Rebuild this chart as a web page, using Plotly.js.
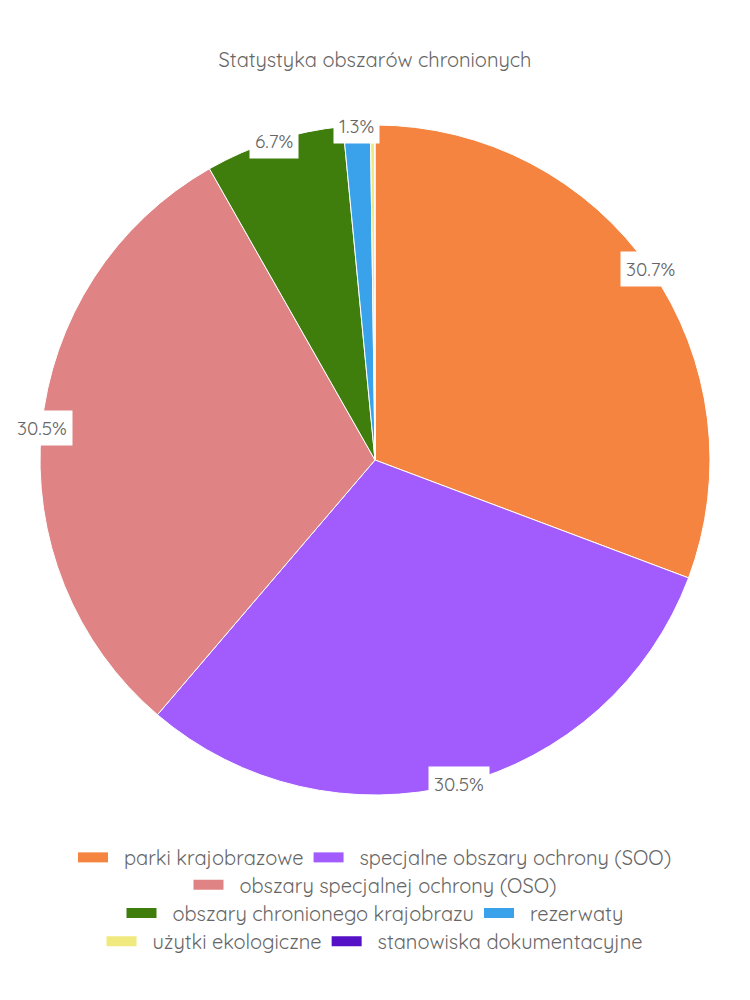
<!DOCTYPE html>
<html>
<head>
<meta charset="utf-8">
<script src="https://cdn.plot.ly/plotly-3.0.1.min.js"></script>
<style>html,body{margin:0;padding:0;background:#fff}#chart{width:750px;height:1000px}</style>
</head>
<body>
<div id="chart"></div>
<script>
const categories = [
  "parki krajobrazowe",
  "specjalne obszary ochrony (SOO)",
  "obszary specjalnej ochrony (OSO)",
  "obszary chronionego krajobrazu",
  "rezerwaty",
  "użytki ekologiczne",
  "stanowiska dokumentacyjne"
];
const values = [30.7, 30.5, 30.5, 6.7, 1.3, 0.2, 0.02];
const colors = ["#F4843F", "#A25CFE", "#E08384", "#3F7E0D", "#39A2EB", "#F0EA7E", "#5411C5"];
const chartTitle = "Statystyka obszarów chronionych";
const legendRows = [[0, 1], [2], [3, 4], [5, 6]];

const FONT = "Quicksand, 'Open Sans', sans-serif";
const TXT = "#666666";

const total = values.reduce((a, b) => a + b, 0);
const annotations = [];
let cum = 0;
values.forEach(v => {
  const frac = v / total;
  const mid = (cum + frac / 2) * 2 * Math.PI;
  cum += frac;
  if (frac * 100 < 1) return;
  annotations.push({
    xref: "paper", yref: "paper",
    x: 0.5 + 0.5 * Math.sin(mid),
    y: 0.5 + 0.5 * Math.cos(mid),
    text: (frac * 100).toFixed(1) + "%",
    showarrow: false,
    bgcolor: "#ffffff",
    borderpad: 5,
    font: {family: FONT, size: 19, color: TXT},
    xanchor: "center", yanchor: "middle"
  });
});

const data = [{
  type: "pie",
  labels: categories,
  values: values,
  sort: false,
  direction: "clockwise",
  rotation: 0,
  textinfo: "none",
  hoverinfo: "label+percent",
  showlegend: false,
  marker: {colors: colors, line: {color: "#ffffff", width: 1}}
}];

const legendNames = ["legend", "legend2", "legend3", "legend4"];
legendRows.forEach((row, r) => {
  row.forEach(i => {
    data.push({
      type: "scatter", mode: "lines",
      x: [null], y: [null],
      name: "\u00A0\u00A0" + categories[i],
      legend: legendNames[r],
      showlegend: true,
      hoverinfo: "skip",
      line: {color: colors[i], width: 14}
    });
  });
});

const rowTops = [-0.064, -0.105, -0.147, -0.189];
const legendBase = {
  orientation: "h", x: 0.5, xanchor: "center", yanchor: "top",
  font: {family: FONT, size: 20, color: TXT}, traceorder: "normal",
  bgcolor: "rgba(0,0,0,0)", itemclick: false, itemdoubleclick: false
};

const layout = {
  width: 750, height: 1000,
  paper_bgcolor: "#ffffff",
  plot_bgcolor: "#ffffff",
  margin: {l: 40, r: 40, t: 125, b: 205},
  title: {text: chartTitle, x: 0.5, xanchor: "center", y: 0.94, yanchor: "middle",
          font: {family: FONT, size: 20, color: TXT}},
  xaxis: {visible: false, range: [0, 1]},
  yaxis: {visible: false, range: [0, 1]},
  annotations: annotations
};
legendNames.forEach((n, r) => {
  layout[n] = Object.assign({}, legendBase, {y: rowTops[r]});
});

Plotly.newPlot("chart", data, layout, {displayModeBar: false});
</script>
</body>
</html>
